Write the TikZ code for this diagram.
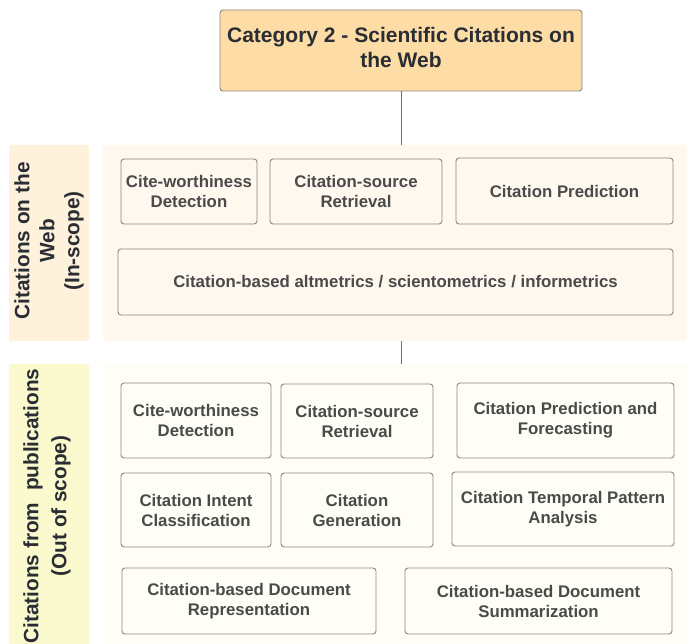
\documentclass[tikz,border=0pt]{standalone}
\usepackage{fontspec}
\setmainfont{Liberation Sans}
\usetikzlibrary{positioning}
\definecolor{titlefill}{HTML}{FDDCA6}
\definecolor{titletext}{HTML}{2A2E34}
\definecolor{bandA}{HTML}{FEF2DC}
\definecolor{areaA}{HTML}{FEF8EF}
\definecolor{bandB}{HTML}{FBFACF}
\definecolor{areaB}{HTML}{FEFEF6}
\definecolor{cellline}{HTML}{8C8880}
\definecolor{celltext}{HTML}{4A4A4A}
\definecolor{linkline}{HTML}{707070}
\tikzset{
  every node/.style={inner sep=0pt, outer sep=0pt},
  area/.style={rectangle, rounded corners=2pt, draw=none},
  cell/.style={rectangle, rounded corners=3pt, draw=cellline, line width=0.9pt,
    align=center, text=celltext, font=\bfseries\fontsize{16.8}{20}\selectfont},
  bandlabel/.style={rotate=90, align=center, text=titletext,
    font=\bfseries\fontsize{20.8}{25}\selectfont},
  link/.style={draw=linkline, line width=0.9pt},
}
\begin{document}
\begin{tikzpicture}[x=1pt, y=-1pt]
\useasboundingbox (0,0) rectangle (687,644);

% title
\node[rectangle, rounded corners=3pt, draw=cellline, line width=0.9pt, fill=titlefill,
  minimum width=362pt, minimum height=81pt] (title) at (401,50.5) {};
\node[align=center, text=titletext, font=\bfseries\fontsize{21}{25}\selectfont]
  (titletxt) at (401,47.5) {Category 2 - Scientific Citations on\\the Web};

% section: citations on the web
\node[area, fill=bandA, minimum width=80pt, minimum height=196pt] (bandA) at (49,243) {};
\node[area, fill=areaA, minimum width=584pt, minimum height=196pt] (areaA) at (395,243) {};
\node[bandlabel] (labelA) at (49,241) {Citations on the\\Web\\(In-scope)};

\node[cell, minimum width=136pt, minimum height=65pt] (a1) at (189,191.5) {Cite-worthiness\\Detection};
\node[cell, minimum width=172pt, minimum height=65pt] (a2) at (356,191.5) {Citation-source\\Retrieval};
\node[cell, minimum width=217pt, minimum height=66pt] (a3) at (564.5,191) {Citation Prediction};
\node[cell, minimum width=555pt, minimum height=66pt] (a4) at (395.5,282) {Citation-based altmetrics / scientometrics / informetrics};

% section: citations from publications
\node[area, fill=bandB, minimum width=80pt, minimum height=290pt] (bandB) at (49,509) {};
\node[area, fill=areaB, minimum width=584pt, minimum height=290pt] (areaB) at (395,509) {};
\node[bandlabel, font=\bfseries\fontsize{20.8}{28}\selectfont] (labelB) at (47,506) {Citations from\ \ publications\\(Out of scope)};

\node[cell, minimum width=150pt, minimum height=75pt] (b1) at (196,420.5) {Cite-worthiness\\Detection};
\node[cell, minimum width=152pt, minimum height=74pt] (b2) at (357,421) {Citation-source\\Retrieval};
\node[cell, minimum width=217pt, minimum height=75pt] (b3) at (565.5,420.5) {Citation Prediction and\\Forecasting};
\node[cell, minimum width=150pt, minimum height=74pt] (b4) at (196,510) {Citation Intent\\Classification};
\node[cell, minimum width=152pt, minimum height=74pt] (b5) at (357,510) {Citation\\Generation};
\node[cell, minimum width=222pt, minimum height=74pt] (b6) at (563,509) {Citation Temporal Pattern\\Analysis};
\node[cell, minimum width=254pt, minimum height=66pt] (b7) at (249,601) {Citation-based Document\\Representation};
\node[cell, minimum width=267pt, minimum height=66pt] (b8) at (538.5,601) {Citation-based Document\\Summarization};

% connectors
\draw[link] (title.south) -- (title.south |- areaA.north);
\draw[link] (title.south |- areaA.south) -- (title.south |- areaB.north);
\end{tikzpicture}
\end{document}
